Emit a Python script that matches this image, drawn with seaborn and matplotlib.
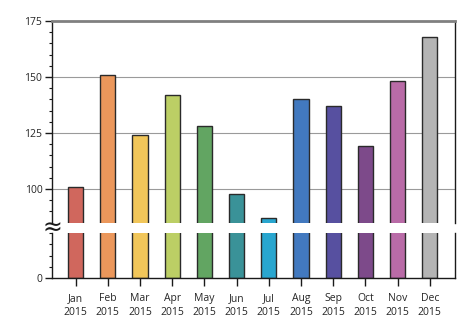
import matplotlib
matplotlib.use("Agg")
import matplotlib.pyplot as plt
import seaborn as sns
import pandas as pd
from matplotlib.ticker import MultipleLocator

months = ["Jan\n2015", "Feb\n2015", "Mar\n2015", "Apr\n2015", "May\n2015", "Jun\n2015",
          "Jul\n2015", "Aug\n2015", "Sep\n2015", "Oct\n2015", "Nov\n2015", "Dec\n2015"]
values = [101, 151, 124, 142, 128, 98, 87, 140, 137, 119, 148, 168]
colors = ["#d0675d", "#eb975b", "#f1c65a", "#bccf65", "#62a562", "#3a9298",
          "#29a6cf", "#4279bf", "#5750a0", "#7d4a8a", "#b96ba7", "#b4b4b4"]

df = pd.DataFrame({"month": months, "value": values})

sns.set_style("white")
plt.rcParams['font.family'] = ['Open Sans', 'DejaVu Sans']

W, H = 457, 323
fig = plt.figure(figsize=(W / 100, H / 100), dpi=100)
left, right = 52 / W, 455 / W
ax_top = fig.add_axes([left, 1 - 223 / H, right - left, (223 - 21) / H])
ax_bot = fig.add_axes([left, 1 - 278 / H, right - left, (278 - 233) / H])

for ax in (ax_top, ax_bot):
    sns.barplot(data=df, x="month", y="value", hue="month", palette=colors,
                legend=False, ax=ax, width=0.47, edgecolor="#2a2a2a", linewidth=1.0,
                saturation=1)
    ax.set_xlim(-0.73, 11.78)
    ax.set_xlabel("")
    ax.set_ylabel("")
    for s in ax.spines.values():
        s.set_color("#1a1a1a")
        s.set_linewidth(1.0)
    ax.yaxis.set_minor_locator(MultipleLocator(5))
    ax.tick_params(axis="y", which="major", direction="out", length=5, width=1,
                   color="#1a1a1a", labelsize=7.5, pad=2, left=True)
    ax.tick_params(axis="y", which="minor", direction="out", length=2.5, width=0.8,
                   color="#1a1a1a", left=True)

# upper part
ax_top.set_ylim(84.85, 175)
ax_top.set_yticks([100, 125, 150, 175])
ax_top.set_yticklabels(["100", "125", "150", "175"])
ax_top.grid(axis="y", color="#9a9a9a", linewidth=0.8)
ax_top.set_axisbelow(True)
ax_top.spines["bottom"].set_visible(False)
ax_top.spines["top"].set_color("#808080")
ax_top.spines["top"].set_linewidth(2.0)
ax_top.tick_params(axis="x", which="both", bottom=False, labelbottom=False)

# lower part
ax_bot.set_ylim(0, 20)
ax_bot.set_yticks([0])
ax_bot.set_yticklabels(["0"])
ax_bot.spines["top"].set_visible(False)
ax_bot.tick_params(axis="x", direction="out", length=6, width=1, color="#1a1a1a",
                   labelsize=7.5, pad=5, bottom=True)
for lbl in ax_bot.get_xticklabels():
    lbl.set_linespacing(1.3)

# break symbol on the left spine
fig.text(left, 1 - 228 / H, "≈", ha="center", va="center", fontsize=17,
         color="#1a1a1a", family="DejaVu Sans")

fig.savefig("out.png", dpi=100)
